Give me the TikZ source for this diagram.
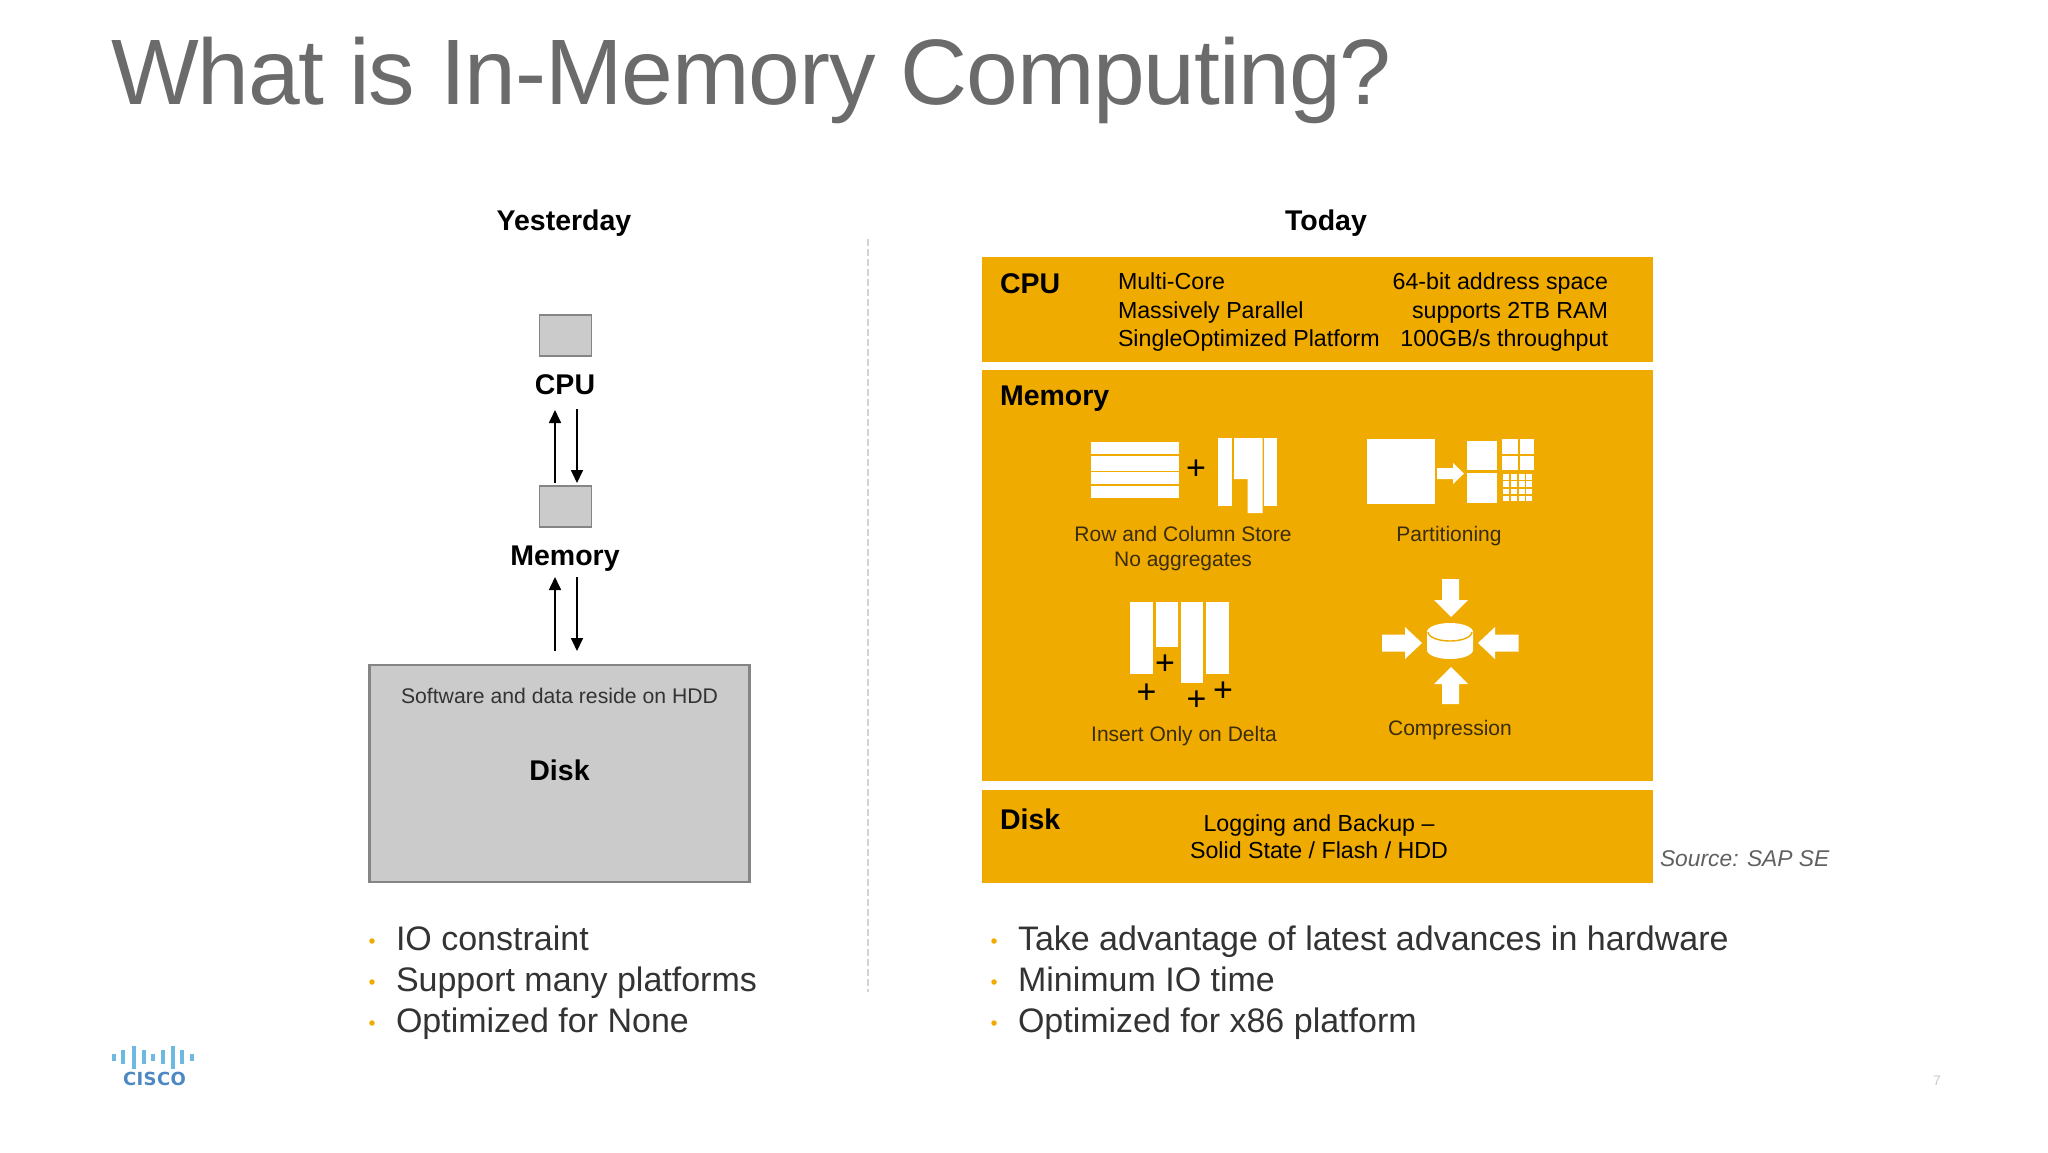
\documentclass[tikz,border=0pt]{standalone}
\usepackage{fontspec}
\setmainfont{Liberation Sans}
\newfontfamily\logofont{DejaVu Sans}
\usetikzlibrary{arrows.meta}
\definecolor{sapgold}{HTML}{F0AB00}
\definecolor{boxgray}{HTML}{CBCBCB}
\definecolor{boxline}{HTML}{858585}
\definecolor{titlegray}{HTML}{6B6B6B}
\definecolor{bodytext}{HTML}{333333}
\definecolor{icontext}{HTML}{3A2C0C}
\definecolor{logobar}{HTML}{6DB9E2}
\definecolor{logotext}{HTML}{4C88C2}
\newcommand{\fs}[1]{\fontsize{#1pt}{#1pt}\selectfont}
\tikzset{
  txt/.style={inner sep=0pt,outer sep=0pt,anchor=base west},
  ctr/.style={inner sep=0pt,outer sep=0pt,anchor=base},
  rgt/.style={inner sep=0pt,outer sep=0pt,anchor=base east},
  heading/.style={font=\bfseries\fs{28.5},text=black},
  bartext/.style={font=\fs{23.2},text=black},
  icontxt/.style={font=\fs{21},text=icontext},
  plus/.style={inner sep=0pt,outer sep=0pt,anchor=center,font=\fs{34},text=black},
  bullettext/.style={font=\fs{34},text=bodytext},
  dot/.style={circle,fill=sapgold,inner sep=0pt,minimum size=5.5pt},
  graybox/.style={draw=boxline,fill=boxgray,line width=1.8pt,inner sep=0pt},
  bar/.style={fill=sapgold},
  flow/.style={draw=black,line width=1.7pt,-{Triangle[length=13pt,width=12pt]}},
  wh/.style={fill=white},
}
\begin{document}
\begin{tikzpicture}[x=1pt,y=-1pt]
\useasboundingbox (0,0) rectangle (2048,1152);
\fill[white] (0,0) rectangle (2048,1152);
% title
\node[txt,font=\fs{93},text=titlegray] (title) at (111,104) {\addfontfeature{LetterSpace=-1.2}What is In-Memory Computing?};
% headers
\node[ctr,heading] (yest) at (564,230) {Yesterday};
\node[ctr,heading] (today) at (1326,230) {Today};
% divider
\draw[draw=boxgray!85,line width=2pt,dash pattern=on 7pt off 3pt] (868,239) -- (868,992);
% left diagram
\node[graybox,minimum width=52pt,minimum height=41pt] (cpubox) at (565.5,335.5) {};
\node[ctr,heading] (cpul) at (565,394) {CPU};
\node[graybox,minimum width=52pt,minimum height=41pt] (membox) at (565.5,506.5) {};
\node[ctr,heading] (meml) at (565,565) {Memory};
\node[graybox,line width=2.4pt,minimum width=380pt,minimum height=217pt] (diskbox) at (559.5,773.5) {};
\node[ctr,font=\fs{21.2},text=bodytext] (hdd) at (559.5,703) {Software and data reside on HDD};
\node[ctr,heading] (diskl) at (559.5,780) {Disk};
\coordinate (u1a) at (555,483); \coordinate (u1b) at (555,410);
\coordinate (d1a) at (577,409); \coordinate (d1b) at (577,483);
\coordinate (u2a) at (555,651); \coordinate (u2b) at (555,577);
\coordinate (d2a) at (577,577); \coordinate (d2b) at (577,651);
\draw[flow] (u1a) -- (u1b);
\draw[flow] (d1a) -- (d1b);
\draw[flow] (u2a) -- (u2b);
\draw[flow] (d2a) -- (d2b);
% right bars
\fill[bar] (982,257) rectangle (1653,362);
\fill[bar] (982,370) rectangle (1653,781);
\fill[bar] (982,790) rectangle (1653,883);
\node[txt,heading] (cpur) at (1000,293) {CPU};
\node[txt,bartext] (c1) at (1118,289) {Multi-Core};
\node[txt,bartext] (c2) at (1118,318) {Massively Parallel};
\node[txt,bartext] (c3) at (1118,346) {SingleOptimized Platform};
\node[rgt,bartext] (c4) at (1608,289) {64-bit address space};
\node[rgt,bartext] (c5) at (1608,318) {supports 2TB RAM};
\node[rgt,bartext] (c6) at (1608,346) {100GB/s throughput};
\node[txt,heading] (memr) at (1000,405) {Memory};
\node[txt,heading] (diskr) at (1000,829) {Disk};
\node[ctr,bartext] (d1) at (1319,831) {Logging and Backup –};
\node[ctr,bartext] (d2) at (1319,858) {Solid State / Flash / HDD};
\node[txt,font=\itshape\fs{22.8},text=titlegray!90!black] (src) at (1660,866) {Source: SAP SE};
% row store icon
\fill[wh] (1091,442) rectangle (1179,498);
\draw[sapgold,line width=1.4pt] (1091,455) -- (1179,455) (1091,471.5) -- (1179,471.5) (1091,485) -- (1179,485);
\node[plus] (p0) at (1196,470) {+};
\fill[wh] (1218,438) rectangle (1232,506);
\fill[wh] (1234,438) -- (1262.5,438) -- (1262.5,513) -- (1247.5,513) -- (1247.5,479) -- (1234,479) -- cycle;
\fill[wh] (1264,438) rectangle (1277,506);
\node[ctr,icontxt] (t1) at (1183,541) {Row and Column Store};
\node[ctr,icontxt] (t2) at (1183,566) {No aggregates};
% partition icon
\fill[wh] (1366.5,439) rectangle (1434.5,504);
\fill[wh] (1437,468) -- (1453,468) -- (1453,463) -- (1464,473.5) -- (1453,484) -- (1453,479) -- (1437,479) -- cycle;
\fill[wh] (1467,441) rectangle (1497,470);
\fill[wh] (1467,473) rectangle (1497,503);
\fill[wh] (1502,439) rectangle (1517.5,454);
\fill[wh] (1519.5,439) rectangle (1533.5,454);
\fill[wh] (1502,456) rectangle (1517.5,470);
\fill[wh] (1519.5,456) rectangle (1533.5,470);
\foreach \i in {0,1,2,3}{\foreach \j in {0,1,2,3}{
  \fill[wh] ({1503+\i*7.8},{474+\j*7.3}) rectangle ({1503+\i*7.8+6},{474+\j*7.3+5.5});
}}
\node[ctr,icontxt] (t3) at (1449,541) {Partitioning};
% insert icon
\fill[wh] (1130,602) rectangle (1153,674);
\fill[wh] (1155.5,602) rectangle (1178,647);
\fill[wh] (1180.5,602) rectangle (1203,683);
\fill[wh] (1205.5,602) rectangle (1229,674);
\node[plus] (p1) at (1165,665) {+};
\node[plus] (p2) at (1146.5,694) {+};
\node[plus] (p3) at (1196.5,701) {+};
\node[plus] (p4) at (1223,692) {+};
\node[ctr,icontxt] (t4) at (1184,741) {Insert Only on Delta};
% compression icon
\fill[wh] (1442,579) -- (1459,579) -- (1459,600) -- (1468,600) -- (1451,617) -- (1434,600) -- (1442,600) -- cycle;
\fill[wh] (1442,704) -- (1459,704) -- (1459,684) -- (1468,684) -- (1451,667) -- (1434,684) -- (1442,684) -- cycle;
\fill[wh] (1382,634.5) -- (1405,634.5) -- (1405,627) -- (1422,643) -- (1405,659) -- (1405,651.5) -- (1382,651.5) -- cycle;
\fill[wh] (1518.5,634.5) -- (1495,634.5) -- (1495,627) -- (1478,643) -- (1495,659) -- (1495,651.5) -- (1518.5,651.5) -- cycle;
\fill[wh] (1427,632) -- (1427,650) arc[x radius=23,y radius=9,start angle=180,end angle=0] -- (1473,632) -- cycle;
\fill[wh] (1450,632) ellipse[x radius=23,y radius=9];
\draw[sapgold,line width=1.4pt] (1428,632) arc[x radius=22,y radius=9,start angle=180,end angle=0];
\node[ctr,icontxt] (t5) at (1450,735) {Compression};
% bullets
\foreach \n/\y/\t in {a/950/IO constraint,b/991/Support many platforms,c/1032/Optimized for None}{
  \node[dot] (bl\n) at (372,{\y-9}) {};
  \node[txt,bullettext] (tl\n) at (396,\y) {\t};
}
\foreach \n/\y/\t in {a/950/Take advantage of latest advances in hardware,b/991/Minimum IO time,c/1032/Optimized for x86 platform}{
  \node[dot] (br\n) at (994,{\y-9}) {};
  \node[txt,bullettext] (tr\n) at (1018,\y) {\t};
}
% cisco logo
\foreach \x/\h in {114/7,123/14,134/23,144/14,153/7,163/14,173/23,182/14,192/7}{
  \draw[color=logobar,line width=3.6pt] (\x,{1057-\h/2}) -- (\x,{1057+\h/2});
}
\node[ctr,font=\logofont\bfseries\fs{18},text=logotext] (cisco) at (154.5,1085) {\addfontfeature{LetterSpace=2}CISCO};
% page number
\node[ctr,font=\fs{14},text=boxgray] (pg) at (1937,1085) {7};
\end{tikzpicture}
\end{document}
